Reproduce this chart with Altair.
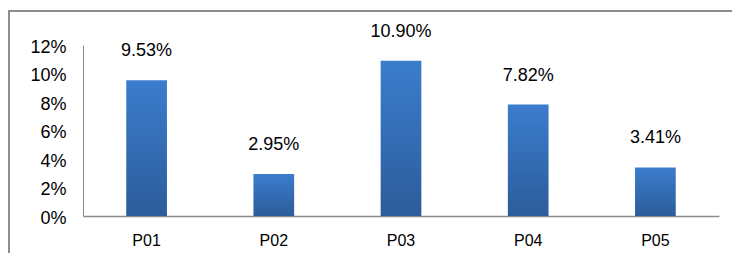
import altair as alt
import pandas as pd

categories = ["P01", "P02", "P03", "P04", "P05"]
values = [0.0953, 0.0295, 0.1090, 0.0782, 0.0341]
y_ticks = [0, 0.02, 0.04, 0.06, 0.08, 0.10, 0.12]

df = pd.DataFrame({"cat": categories, "val": values})

x = alt.X("cat:N", sort=categories, title=None,
          scale=alt.Scale(paddingInner=0.68, paddingOuter=0.34),
          axis=alt.Axis(labelAngle=0, ticks=False, domainColor="#8c8c8c",
                        domainWidth=1.5, labelFont="Liberation Sans",
                        labelFontSize=16, labelColor="#000000", labelPadding=16))
y = alt.Y("val:Q", title=None,
          scale=alt.Scale(domain=[0, 0.12], nice=False),
          axis=alt.Axis(values=y_ticks, format=".0%", ticks=False, grid=False,
                        labelOverlap=False, labelFlush=False, labelOffset=2,
                        domainColor="#8c8c8c", domainWidth=1,
                        labelFont="Liberation Sans", labelFontSize=18,
                        labelColor="#000000", labelPadding=17))

base = alt.Chart(df).encode(x=x, y=y)

bars = base.mark_bar(
    color=alt.Gradient(
        gradient="linear",
        stops=[alt.GradientStop(color="#3b7dcd", offset=0),
               alt.GradientStop(color="#2c5c9b", offset=1)],
        x1=0, x2=0, y1=0, y2=1,
    )
)

labels = base.mark_text(baseline="bottom", dy=-20, fontSize=18,
                        font="Liberation Sans", color="#000000").encode(
    text=alt.Text("val:Q", format=".2%"),
)

frame = alt.Chart(df)
frame_top = frame.mark_rule(color="#8c8c8c", strokeWidth=2).encode(
    x=alt.value(-75), x2=alt.value(700), y=alt.value(-34)
)
frame_left = frame.mark_rule(color="#8c8c8c", strokeWidth=2).encode(
    x=alt.value(-74.5), y=alt.value(-35), y2=alt.value(260)
)

chart = alt.layer(bars, labels, frame_top, frame_left).properties(
    width=636, height=171,
    background="white",
    autosize=alt.AutoSizeParams(type="none"),
    padding={"left": 75, "top": 37, "right": 13, "bottom": 37},
).configure_view(stroke=None)

chart.save("out.html", embed_options={"renderer": "svg", "actions": False})
